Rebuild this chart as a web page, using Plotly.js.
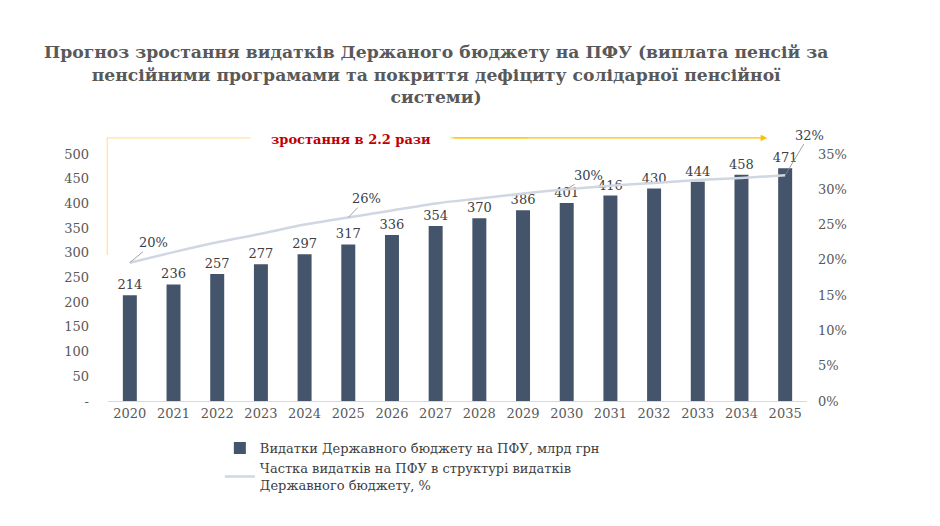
<!DOCTYPE html>
<html>
<head>
<meta charset="utf-8">
<script src="https://cdn.plot.ly/plotly-3.0.1.min.js"></script>
<style>
  html, body { margin: 0; padding: 0; background: #fff; }
  #chart { width: 940px; height: 526px; }
</style>
</head>
<body>
<div id="chart"></div>
<script>
var years = ['2020', '2021', '2022', '2023', '2024', '2025', '2026', '2027',
  '2028', '2029', '2030', '2031', '2032', '2033', '2034', '2035'];

// видатки на ПФУ, млрд грн
var spending = [214, 236, 257, 277, 297, 317, 336, 354, 370, 386, 401, 416, 430, 444, 458, 471];

// частка у видатках держбюджету, %
var share = [19.6, 21.1, 22.5, 23.7, 25.0, 26.0, 27.0, 28.0, 28.7, 29.4, 30.0, 30.5, 30.9, 31.3, 31.6, 32.0];

// які точки лінії підписані
var shareLabelIdx = [0, 5, 10, 15];
var shareLabelText = ['20%', '26%', '30%', '32%'];

var leftTicks = [0, 50, 100, 150, 200, 250, 300, 350, 400, 450, 500];
var leftTickText = ['-', '50', '100', '150', '200', '250', '300', '350', '400', '450', '500'];
var rightTicks = [0, 5, 10, 15, 20, 25, 30, 35];
var rightTickText = ['0%', '5%', '10%', '15%', '20%', '25%', '30%', '35%'];

var serif = 'DejaVu Serif, Georgia, serif';
var barColor = '#44546A';
var lineColor = '#D0D7E2';

var data = [
  {
    x: years,
    y: spending,
    type: 'bar',
    name: 'Видатки Державного бюджету на ПФУ, млрд грн',
    marker: { color: barColor },
    text: spending.map(String),
    textposition: 'outside',
    constraintext: 'none',
    cliponaxis: false,
    textfont: { family: serif, size: 13, color: '#404040' },
    outsidetextfont: { family: serif, size: 13, color: '#404040' }
  },
  {
    x: years,
    y: share,
    type: 'scatter',
    mode: 'lines',
    yaxis: 'y2',
    name: 'Частка видатків на ПФУ в структурі видатків<br>Державного бюджету, %',
    line: { color: lineColor, width: 2.5, shape: 'spline', smoothing: 0.8 }
  }
];

// зсуви підписів відносно точок, px
var labelOffsets = [[24, -20], [18, -19], [22, -14], [24, -40]];

var annotations = [];
for (var i = 0; i < shareLabelIdx.length; i++) {
  var k = shareLabelIdx[i];
  annotations.push({
    x: k,
    y: share[k],
    xref: 'x',
    yref: 'y2',
    text: shareLabelText[i],
    showarrow: true,
    arrowhead: 0,
    arrowwidth: 0.8,
    arrowcolor: '#8C8C8C',
    ax: labelOffsets[i][0],
    ay: labelOffsets[i][1],
    font: { family: serif, size: 13, color: '#333F50' }
  });
}

// стрілка "зростання в 2.2 рази"
annotations.push({
  xref: 'paper', yref: 'paper',
  x: 0.943, y: 1.065,
  axref: 'pixel', ayref: 'pixel',
  ax: -315, ay: 0,
  text: '',
  showarrow: true,
  arrowhead: 2,
  arrowsize: 1,
  arrowwidth: 1.3,
  arrowcolor: '#FFC000'
});
annotations.push({
  xref: 'paper', yref: 'paper',
  x: 0.348, y: 1.057,
  xanchor: 'center', yanchor: 'middle',
  text: '<b>зростання в 2.2 рази</b>',
  showarrow: false,
  font: { family: serif, size: 13, color: '#C00000' }
});

var layout = {
  width: 940,
  height: 526,
  paper_bgcolor: '#fff',
  plot_bgcolor: '#fff',
  margin: { l: 108, r: 133, t: 154, b: 125, autoexpand: false },
  title: {
    text: '<b>Прогноз зростання видатків Держаного бюджету на ПФУ (виплата пенсій за<br>пенсійними програмами та покриття дефіциту солідарної пенсійної<br>системи)</b>',
    x: 0.464,
    xanchor: 'center',
    xref: 'container',
    y: 0.889,
    yanchor: 'top',
    font: { family: serif, size: 17.2, color: '#595959' }
  },
  bargap: 0.68,
  showlegend: true,
  legend: {
    x: 0.16,
    y: -0.13,
    xanchor: 'left',
    yanchor: 'top',
    orientation: 'v',
    tracegroupgap: 2,
    font: { family: serif, size: 13, color: '#404040' },
    bgcolor: 'rgba(0,0,0,0)'
  },
  xaxis: {
    type: 'category',
    range: [-0.5, years.length - 0.5],
    showgrid: false,
    showline: true,
    linecolor: '#D9D9D9',
    linewidth: 1,
    ticks: '',
    tickfont: { family: serif, size: 13, color: '#595959' },
    fixedrange: true
  },
  yaxis: {
    range: [0, 500],
    tickvals: leftTicks,
    ticktext: leftTickText,
    showgrid: false,
    zeroline: false,
    showline: false,
    ticklabelstandoff: 18,
    tickfont: { family: serif, size: 13, color: '#595959' },
    fixedrange: true
  },
  yaxis2: {
    overlaying: 'y',
    side: 'right',
    range: [0, 35],
    tickvals: rightTicks,
    ticktext: rightTickText,
    showgrid: false,
    zeroline: false,
    showline: false,
    ticklabelstandoff: 10,
    tickfont: { family: serif, size: 13, color: '#595959' },
    fixedrange: true
  },
  shapes: [
    {
      type: 'path',
      xref: 'paper', yref: 'paper',
      path: 'M -0.001,0.591 L -0.001,1.065 L 0.204,1.065',
      line: { color: '#FFE699', width: 1.3 }
    },
    {
      type: 'line',
      xref: 'paper', yref: 'paper',
      x0: 0.49, x1: 0.6, y0: 1.065, y1: 1.065,
      line: { color: '#FFD966', width: 1.3 }
    }
  ],
  annotations: annotations
};

Plotly.newPlot('chart', data, layout, { displayModeBar: false, staticPlot: true });
</script>
</body>
</html>
